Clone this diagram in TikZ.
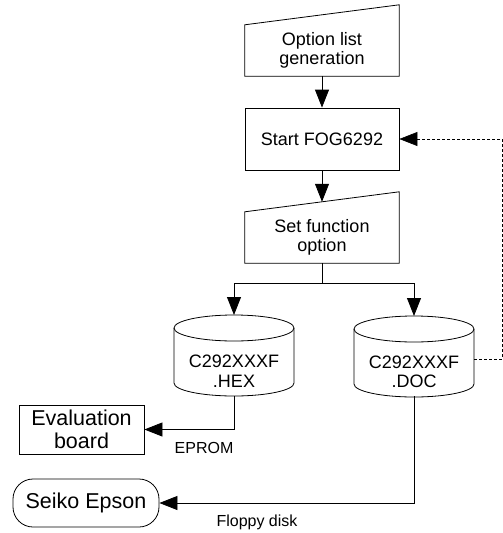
\documentclass[tikz,border=0pt]{standalone}
\usepackage{fontspec}
\setmainfont{Liberation Sans}
\usetikzlibrary{arrows.meta,positioning,calc}

\tikzset{
    flow/.style={line width=0.8pt, -{Triangle[length=18pt,width=14pt]}},
    boxfont/.style={font=\fontsize{18}{19.5}\selectfont},
    bigfont/.style={font=\fontsize{21.5}{22.5}\selectfont},
    box/.style={draw, line width=0.8pt, minimum width=154pt, align=center, boxfont},
    manual/.style={minimum width=154pt, minimum height=51pt, inner sep=0pt, align=center, boxfont},
    disk/.style={minimum width=120pt, inner sep=0pt, align=center, boxfont},
    lbl/.style={inner sep=0pt, font=\fontsize{16}{19}\selectfont},
}

\begin{document}
\begin{tikzpicture}[x=1pt, y=-1pt]
    \useasboundingbox (0,0) rectangle (503,533);

    % Steps
    \node[manual] (opt) at (322,50.5) {Option list\\generation};
    \node[box, minimum height=62pt] (start) at (322,139) {Start FOG6292};
    \node[manual] (set) at (322,237.5) {Set function\\option};

    % Files
    \node[disk] (hex) at (234,371) {C292XXXF\\.HEX};
    \node[disk] (doc) at (414,372) {C292XXXF\\.DOC};

    % Destinations
    \node[box, bigfont, minimum width=125pt, minimum height=49pt] (eval) at (81.5,429.5) {Evaluation\\board};
    \node[draw, line width=0.8pt, rounded corners=20pt, minimum width=146pt, minimum height=48pt, bigfont] (seiko) at (86,503) {Seiko Epson};

    % Manual input outlines (slanted top)
    \foreach \n in {opt,set} {
        \draw[line width=0.8pt] (\n.south west) -- (\n.south east) -- ([yshift=20pt]\n.north east) -- (\n.north west) -- cycle;
    }

    % Cylinder outlines
    \foreach \n in {hex,doc} {
        \draw[line width=0.8pt] ([yshift=43pt]\n.center) ellipse [x radius=60pt, y radius=13pt];
        \draw[line width=0.8pt] ([shift={(-60pt,43pt)}]\n.center) -- ([shift={(-60pt,-12pt)}]\n.center)
            arc[start angle=180, end angle=360, x radius=60pt, y radius=13pt] -- ([shift={(60pt,43pt)}]\n.center);
    }

    % Connector ends
    \coordinate (settop) at ([yshift=10pt]set.north);
    \coordinate (split) at ([yshift=-20pt]set.south);
    \coordinate (hextop) at ([yshift=56pt]hex.center);
    \coordinate (doctop) at ([yshift=56pt]doc.center);
    \coordinate (hexbot) at ([yshift=-25pt]hex.center);
    \coordinate (docbot) at ([yshift=-24pt]doc.center);
    \coordinate (docright) at ([shift={(60pt,13pt)}]doc.center);

    % Connectors
    \draw[flow] (opt.south) -- (start.north);
    \draw[flow] (start.south) -- (settop);
    \draw[line width=0.8pt] (set.south) -- (split);
    \draw[flow] (split) -| (hextop);
    \draw[flow] (split) -| (doctop);
    \draw[flow] (hexbot) |- (eval.east);
    \draw[flow] (docbot) |- (seiko.east);
    \draw[flow, line width=0.6pt, dash pattern=on 3pt off 2pt] (docright) -- ++(28,0) |- (start.east);

    % Media labels
    \node[lbl] (eprom) at (204,448) {EPROM};
    \node[lbl] (floppy) at (257,522) {Floppy disk};
\end{tikzpicture}
\end{document}
